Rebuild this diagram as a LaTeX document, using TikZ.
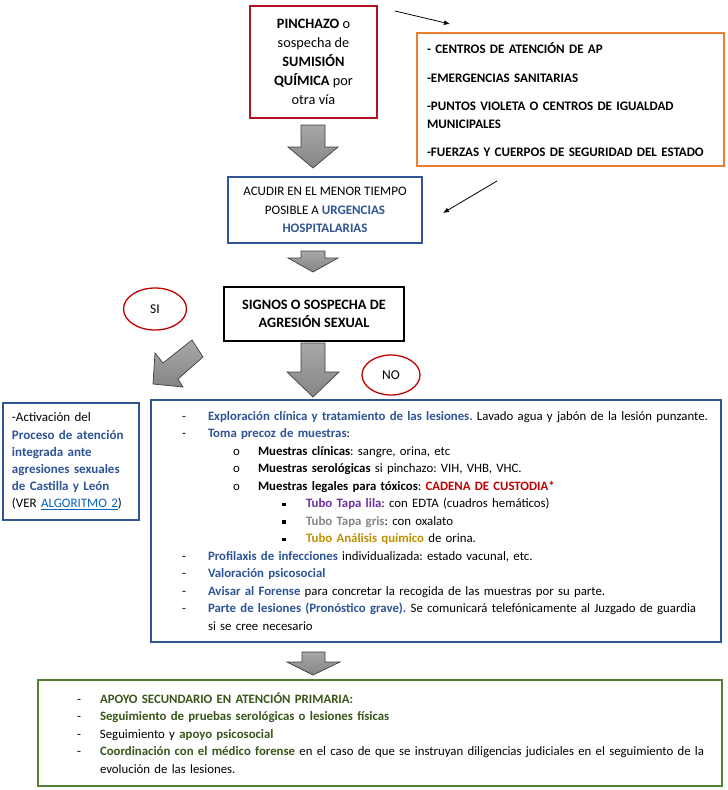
\documentclass[tikz,border=0pt]{standalone}
\usepackage{fontspec}
\setmainfont{Carlito}
\usetikzlibrary{arrows.meta,shapes.geometric}
\frenchspacing
\definecolor{dred}{HTML}{B0141C}
\definecolor{orng}{HTML}{ED7D31}
\definecolor{bbox}{HTML}{2F5597}
\definecolor{btext}{HTML}{2F5496}
\definecolor{gbox}{HTML}{548235}
\definecolor{gtext}{HTML}{38571A}
\definecolor{rtext}{HTML}{C00000}
\definecolor{ptext}{HTML}{7030A0}
\definecolor{graytext}{HTML}{858585}
\definecolor{goldtext}{HTML}{BF9000}
\definecolor{linkblue}{HTML}{0563C1}
\definecolor{arrfill}{HTML}{858585}
\definecolor{arrtop}{HTML}{A8A8A8}
\definecolor{arrline}{HTML}{404040}
\newcommand{\bc}[2]{\textbf{\textcolor{#1}{#2}}}
\newcommand{\dashl}{\hspace*{31pt}\makebox[26pt][l]{-}}
\newcommand{\circl}{\hspace*{82pt}\makebox[25pt][l]{o}}
\newcommand{\sqrl}{\hspace*{131pt}\makebox[24pt][l]{\rule[1.8pt]{3.5pt}{3.5pt}}}
\newcommand{\gdashl}{\hspace*{39pt}\makebox[23pt][l]{-}}
\tikzset{
  blk/.style={draw=arrline, line width=0.7pt, top color=arrtop, bottom color=arrfill},
  thin/.style={-{Latex[length=6pt,width=5pt]}, line width=0.8pt},
  oval/.style={ellipse, draw=rtext, line width=1.3pt, font=\fontsize{13.5}{15}\selectfont, inner sep=0pt}
}
\begin{document}
\begin{tikzpicture}[x=1pt,y=-1pt]
\useasboundingbox (0,0) rectangle (728,790);
\fill[white] (0,0) rectangle (728,790);

% top red box
\node[draw=dred, line width=2.5pt, minimum width=127pt, minimum height=112pt, align=center,
      font=\fontsize{14.3}{19}\selectfont] (pinch) at (313.5,62)
  {\textbf{PINCHAZO} o\\sospecha de\\\textbf{SUMISIÓN}\\\textbf{QUÍMICA} por\\otra vía};

% orange box
\node[draw=orng, line width=2pt, minimum width=307pt, minimum height=133pt, inner xsep=10pt,
      text width=287pt, align=left, font=\fontsize{13}{18}\selectfont\bfseries] (orange) at (570.5,99.5)
  {- CENTROS DE ATENCIÓN DE AP\\[11pt]
   -EMERGENCIAS SANITARIAS\\[10pt]
   -PUNTOS VIOLETA O CENTROS DE IGUALDAD\\
   MUNICIPALES\\[10pt]
   -FUERZAS Y CUERPOS DE SEGURIDAD DEL ESTADO};

% thin arrows
\coordinate (t1a) at (395,11);
\coordinate (t1b) at (450,24);
\draw[thin] (t1a) -- (t1b);
\coordinate (t2a) at (497,181);
\coordinate (t2b) at (443,213);
\draw[thin] (t2a) -- (t2b);

% acudir box
\node[draw=bbox, line width=2.5pt, minimum width=194pt, minimum height=66pt, align=center,
      font=\fontsize{13}{18.5}\selectfont] (acudir) at (325,210)
  {ACUDIR EN EL MENOR TIEMPO\\POSIBLE A \bc{btext}{URGENCIAS}\\\bc{btext}{HOSPITALARIAS}};

% signos box
\node[draw=black, line width=1.5pt, minimum width=180pt, minimum height=54pt, align=center,
      font=\fontsize{14.3}{18.5}\selectfont\bfseries] (signos) at (314,314)
  {SIGNOS O SOSPECHA DE\\AGRESIÓN SEXUAL};

% ovals
\node[oval, minimum width=63pt, minimum height=42pt] (si) at (155,309) {SI};
\node[oval, minimum width=58pt, minimum height=40pt] (no) at (391,375) {NO};

% block arrows
\draw[blk] (301,125) -- (325,125) -- (325,147) -- (338,147) -- (313,168) -- (288,147) -- (301,147) -- cycle;
\draw[blk] (301,251) -- (325,251) -- (325,258) -- (338,258) -- (313,272) -- (288,258) -- (301,258) -- cycle;
\draw[blk] (301,343) -- (325,343) -- (325,372) -- (339,372) -- (313,397) -- (287,372) -- (301,372) -- cycle;
\draw[blk] (302,652) -- (325,652) -- (325,662) -- (340,662) -- (313,675) -- (287,662) -- (302,662) -- cycle;
\draw[blk] (192,340) -- (203,357) -- (178,379) -- (183,387) -- (153,384) -- (155,353) -- (163,363) -- cycle;

% left box
\node[draw=bbox, line width=2pt, minimum width=136pt, minimum height=117pt, inner xsep=9pt,
      text width=118pt, align=left, font=\fontsize{13}{17.2}\selectfont] (left) at (71,461.5)
  {-Activación del\\
   \bc{btext}{Proceso de atención}\\
   \bc{btext}{integrada ante}\\
   \bc{btext}{agresiones sexuales}\\
   \bc{btext}{de Castilla y León}\\
   (VER \textcolor{linkblue}{\underline{ALGORITMO 2}})};

% main box
\node[draw=bbox, line width=2pt, minimum width=570pt, minimum height=242pt, inner xsep=0pt,
      text width=570pt, align=left, font=\fontsize{12.8}{17.5}\selectfont] (main) at (436,521)
  {\dashl\bc{btext}{Exploración clínica y tratamiento de las lesiones.} Lavado agua y jabón de la lesión punzante.\\
   \dashl\bc{btext}{Toma precoz de muestras}:\\
   \circl\textbf{Muestras clínicas}: sangre, orina, etc\\
   \circl\textbf{Muestras serológicas} si pinchazo: VIH, VHB, VHC.\\
   \circl\textbf{Muestras legales para tóxicos}: \bc{rtext}{CADENA DE CUSTODIA*}\\
   \sqrl\bc{ptext}{Tubo Tapa lila}: con EDTA (cuadros hemáticos)\\
   \sqrl\bc{graytext}{Tubo Tapa gris}: con oxalato\\
   \sqrl\bc{goldtext}{Tubo Análisis químico} de orina.\\
   \dashl\bc{btext}{Profilaxis de infecciones} individualizada: estado vacunal, etc.\\
   \dashl\bc{btext}{Valoración psicosocial}\\
   \dashl\bc{btext}{Avisar al Forense} para concretar la recogida de las muestras por su parte.\\
   \dashl\bc{btext}{Parte de lesiones (Pronóstico grave).} Se comunicará telefónicamente al Juzgado de guardia\\
   \hspace*{57pt}si se cree necesario};

% green box
\node[draw=gbox, line width=2.5pt, minimum width=684pt, minimum height=106pt, inner xsep=0pt,
      text width=684pt, align=left, font=\fontsize{12.8}{17.5}\selectfont] (green) at (380,733)
  {\gdashl\bc{gtext}{APOYO SECUNDARIO EN ATENCIÓN PRIMARIA:}\\
   \gdashl\bc{gtext}{Seguimiento de pruebas serológicas o lesiones físicas}\\
   \gdashl Seguimiento y \bc{gtext}{apoyo psicosocial}\\
   \gdashl\bc{gtext}{Coordinación con el médico forense} en el caso de que se instruyan diligencias judiciales en el seguimiento de la\\
   \hspace*{62pt}evolución de las lesiones.};
\end{tikzpicture}
\end{document}
